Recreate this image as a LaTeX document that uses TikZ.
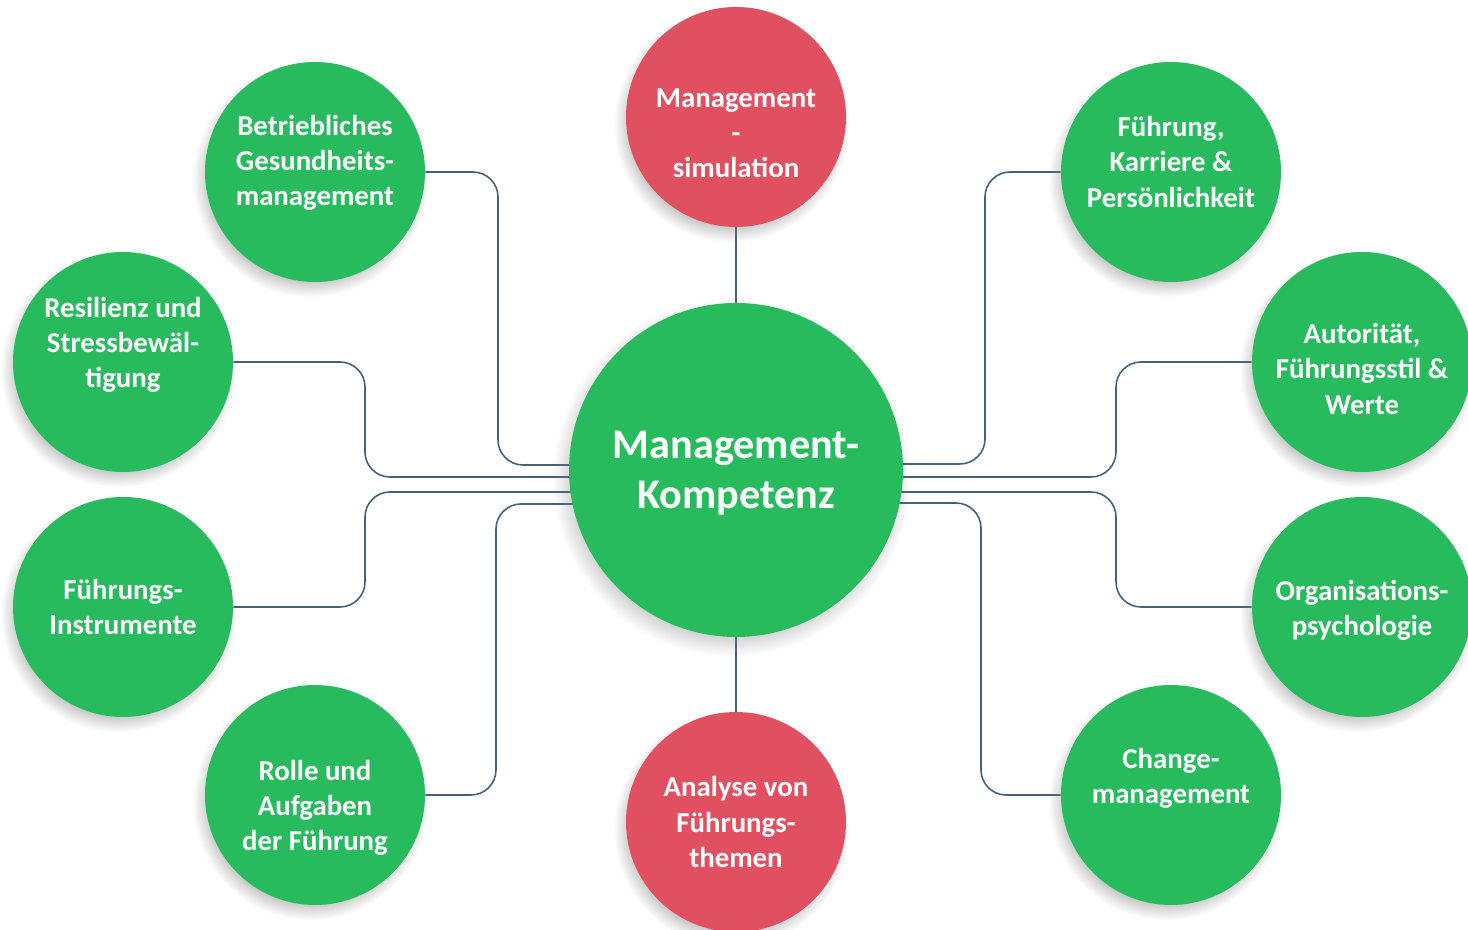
\documentclass[tikz,border=0pt]{standalone}
\usepackage{fontspec}
\setmainfont{Carlito}
\usepackage{tikz}
\usetikzlibrary{shadows, fadings, backgrounds}
\definecolor{kgreen}{RGB}{39, 187, 94}
\definecolor{kred}{RGB}{224, 80, 96}
\definecolor{klink}{RGB}{68, 96, 122}

\begin{document}
\begin{tikzpicture}[
    bubble/.style={circle, fill=kgreen, minimum size=4.4cm, inner sep=0pt,
        circular drop shadow={shadow scale=1.07, shadow xshift=-2.5pt, shadow yshift=-4pt, opacity=0.45}},
    redbubble/.style={bubble, fill=kred},
    txt/.style={text=white, align=center, font=\bfseries\fontsize{16.4}{20}\selectfont},
    bigtxt/.style={txt, font=\bfseries\fontsize{24}{28.5}\selectfont},
    link/.style={draw=klink, line width=0.9pt, rounded corners=0.5cm}
]
    \useasboundingbox (0,0) rectangle (29.36,18.6);

    % centre and the two red topics
    \node[bubble, minimum size=6.68cm, label={[bigtxt, yshift=-0.6mm]center:{Management-\\Kompetenz}}] (kompetenz) at (14.72,9.2) {};
    \node[redbubble, label={[txt, yshift=-3.2mm]center:{Management\\-\\simulation}}] (simulation) at (14.72,16.26) {};
    \node[redbubble, label={[txt]center:{Analyse von\\Führungs-\\themen}}] (analyse) at (14.72,2.16) {};

    % left side
    \node[bubble, label={[txt, yshift=1.8mm]center:{Betriebliches\\Gesundheits-\\management}}] (gesundheit) at (6.3,15.16) {};
    \node[bubble, label={[txt, yshift=3.4mm]center:{Resilienz und\\Stressbewäl-\\tigung}}] (resilienz) at (2.46,11.36) {};
    \node[bubble, label={[txt]center:{Führungs-\\Instrumente}}] (instrumente) at (2.46,6.46) {};
    \node[bubble, label={[txt, yshift=-2.6mm]center:{Rolle und\\Aufgaben\\der Führung}}] (rolle) at (6.3,2.7) {};

    % right side
    \node[bubble, label={[txt, yshift=2mm]center:{Führung,\\Karriere \&\\Persönlichkeit}}] (karriere) at (23.42,15.16) {};
    \node[bubble, label={[txt, yshift=-1.4mm]center:{Autorität,\\Führungsstil \&\\Werte}}] (autoritaet) at (27.24,11.36) {};
    \node[bubble, label={[txt, yshift=-0.6mm]center:{Organisations-\\psychologie}}] (psychologie) at (27.24,6.46) {};
    \node[bubble, label={[txt, yshift=3.4mm]center:{Change-\\management}}] (change) at (23.42,2.7) {};

    % connectors
    \begin{scope}[on background layer]
        \draw[link] (simulation) -- (kompetenz);
        \draw[link] (kompetenz) -- (analyse);
        \draw[link] (gesundheit.east) -| ([xshift=-4.76cm, yshift=1mm]kompetenz.center) -- ([yshift=1mm]kompetenz.center);
        \draw[link] (resilienz.east) -| ([xshift=-7.42cm, yshift=-1.4mm]kompetenz.center) -- ([yshift=-1.4mm]kompetenz.center);
        \draw[link] (instrumente.east) -| ([xshift=-7.42cm, yshift=-4.4mm]kompetenz.center) -- ([yshift=-4.4mm]kompetenz.center);
        \draw[link] (rolle.east) -| ([xshift=-4.8cm, yshift=-6.8mm]kompetenz.center) -- ([yshift=-6.8mm]kompetenz.center);
        \draw[link] (karriere.west) -| ([xshift=4.98cm, yshift=1.2mm]kompetenz.center) -- ([yshift=1.2mm]kompetenz.center);
        \draw[link] (autoritaet.west) -| ([xshift=7.6cm, yshift=-1.4mm]kompetenz.center) -- ([yshift=-1.4mm]kompetenz.center);
        \draw[link] (psychologie.west) -| ([xshift=7.6cm, yshift=-4.4mm]kompetenz.center) -- ([yshift=-4.4mm]kompetenz.center);
        \draw[link] (change.west) -| ([xshift=4.9cm, yshift=-6.6mm]kompetenz.center) -- ([yshift=-6.6mm]kompetenz.center);
    \end{scope}
\end{tikzpicture}
\end{document}
